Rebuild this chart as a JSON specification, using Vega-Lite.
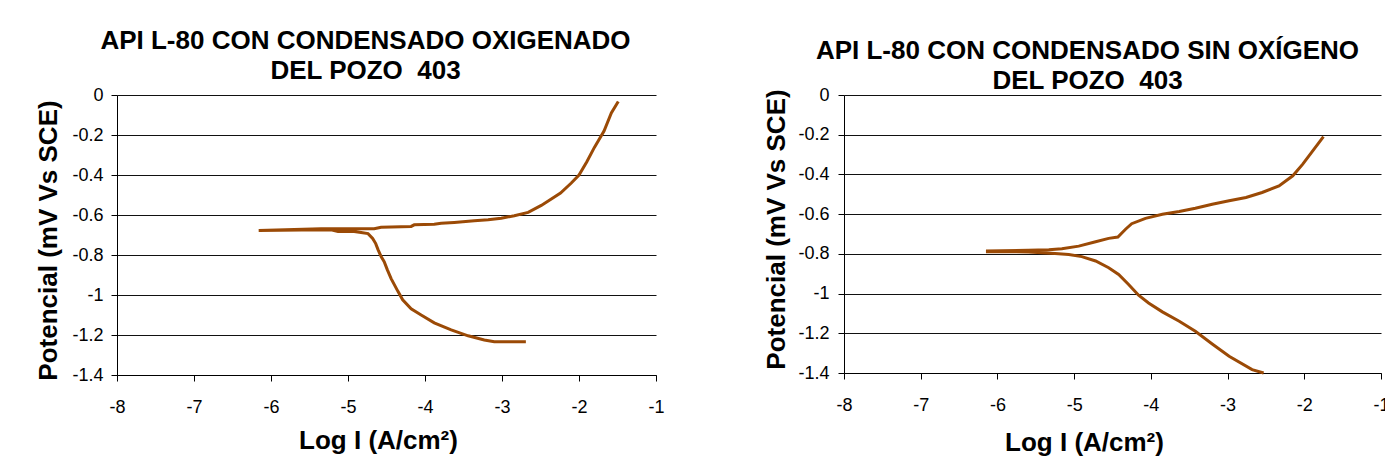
{
  "$schema": "https://vega.github.io/schema/vega-lite/v6.json",
  "background": "white",
  "padding": {"left": 34, "top": 28, "right": 5, "bottom": 5},
  "bounds": "flush",
  "spacing": 188,
  "datasets": {
    "oxig": [
      {"i": 1, "logI": -2.69, "E": -1.234},
      {"i": 2, "logI": -3.10, "E": -1.234},
      {"i": 3, "logI": -3.23, "E": -1.225},
      {"i": 4, "logI": -3.44, "E": -1.204},
      {"i": 5, "logI": -3.66, "E": -1.174},
      {"i": 6, "logI": -3.88, "E": -1.139},
      {"i": 7, "logI": -4.05, "E": -1.100},
      {"i": 8, "logI": -4.18, "E": -1.069},
      {"i": 9, "logI": -4.29, "E": -1.024},
      {"i": 10, "logI": -4.35, "E": -0.983},
      {"i": 11, "logI": -4.44, "E": -0.918},
      {"i": 12, "logI": -4.49, "E": -0.873},
      {"i": 13, "logI": -4.53, "E": -0.833},
      {"i": 14, "logI": -4.57, "E": -0.808},
      {"i": 15, "logI": -4.61, "E": -0.773},
      {"i": 16, "logI": -4.64, "E": -0.743},
      {"i": 17, "logI": -4.68, "E": -0.717},
      {"i": 18, "logI": -4.74, "E": -0.693},
      {"i": 19, "logI": -4.83, "E": -0.687},
      {"i": 20, "logI": -4.92, "E": -0.682},
      {"i": 21, "logI": -5.13, "E": -0.682},
      {"i": 22, "logI": -5.22, "E": -0.674},
      {"i": 23, "logI": -5.60, "E": -0.675},
      {"i": 24, "logI": -6.16, "E": -0.677},
      {"i": 25, "logI": -5.35, "E": -0.669},
      {"i": 26, "logI": -4.66, "E": -0.669},
      {"i": 27, "logI": -4.57, "E": -0.661},
      {"i": 28, "logI": -4.18, "E": -0.657},
      {"i": 29, "logI": -4.14, "E": -0.649},
      {"i": 30, "logI": -3.88, "E": -0.646},
      {"i": 31, "logI": -3.79, "E": -0.641},
      {"i": 32, "logI": -3.62, "E": -0.637},
      {"i": 33, "logI": -3.36, "E": -0.629},
      {"i": 34, "logI": -3.18, "E": -0.624},
      {"i": 35, "logI": -3.01, "E": -0.616},
      {"i": 36, "logI": -2.84, "E": -0.604},
      {"i": 37, "logI": -2.66, "E": -0.587},
      {"i": 38, "logI": -2.49, "E": -0.552},
      {"i": 39, "logI": -2.24, "E": -0.490},
      {"i": 40, "logI": -2.10, "E": -0.440},
      {"i": 41, "logI": -2.00, "E": -0.400},
      {"i": 42, "logI": -1.90, "E": -0.335},
      {"i": 43, "logI": -1.80, "E": -0.262},
      {"i": 44, "logI": -1.675, "E": -0.180},
      {"i": 45, "logI": -1.58, "E": -0.090},
      {"i": 46, "logI": -1.49, "E": -0.032}
    ],
    "sinox": [
      {"i": 1, "logI": -2.53, "E": -1.400},
      {"i": 2, "logI": -2.68, "E": -1.383},
      {"i": 3, "logI": -2.98, "E": -1.316},
      {"i": 4, "logI": -3.20, "E": -1.254},
      {"i": 5, "logI": -3.42, "E": -1.190},
      {"i": 6, "logI": -3.63, "E": -1.139},
      {"i": 7, "logI": -3.85, "E": -1.092},
      {"i": 8, "logI": -4.03, "E": -1.047},
      {"i": 9, "logI": -4.16, "E": -1.008},
      {"i": 10, "logI": -4.29, "E": -0.954},
      {"i": 11, "logI": -4.42, "E": -0.904},
      {"i": 12, "logI": -4.55, "E": -0.870},
      {"i": 13, "logI": -4.72, "E": -0.836},
      {"i": 14, "logI": -4.90, "E": -0.814},
      {"i": 15, "logI": -5.07, "E": -0.803},
      {"i": 16, "logI": -5.25, "E": -0.798},
      {"i": 17, "logI": -5.42, "E": -0.794},
      {"i": 18, "logI": -5.60, "E": -0.791},
      {"i": 19, "logI": -5.86, "E": -0.789},
      {"i": 20, "logI": -6.13, "E": -0.789},
      {"i": 21, "logI": -6.13, "E": -0.786},
      {"i": 22, "logI": -5.60, "E": -0.782},
      {"i": 23, "logI": -5.33, "E": -0.779},
      {"i": 24, "logI": -5.16, "E": -0.774},
      {"i": 25, "logI": -4.94, "E": -0.761},
      {"i": 26, "logI": -4.72, "E": -0.739},
      {"i": 27, "logI": -4.55, "E": -0.722},
      {"i": 28, "logI": -4.43, "E": -0.715},
      {"i": 29, "logI": -4.33, "E": -0.676},
      {"i": 30, "logI": -4.25, "E": -0.648},
      {"i": 31, "logI": -4.07, "E": -0.621},
      {"i": 32, "logI": -3.85, "E": -0.601},
      {"i": 33, "logI": -3.63, "E": -0.587},
      {"i": 34, "logI": -3.42, "E": -0.570},
      {"i": 35, "logI": -3.20, "E": -0.550},
      {"i": 36, "logI": -2.98, "E": -0.533},
      {"i": 37, "logI": -2.76, "E": -0.516},
      {"i": 38, "logI": -2.55, "E": -0.491},
      {"i": 39, "logI": -2.33, "E": -0.458},
      {"i": 40, "logI": -2.15, "E": -0.407},
      {"i": 41, "logI": -2.02, "E": -0.348},
      {"i": 42, "logI": -1.89, "E": -0.281},
      {"i": 43, "logI": -1.75, "E": -0.210}
    ]
  },
  "hconcat": [
    {
      "width": 539,
      "height": 280,
      "title": {"text": ["API L-80 CON CONDENSADO OXIGENADO", "DEL POZO \u00a0403"], "dx": -21, "offset": 2},
      "data": {"name": "oxig"},
      "mark": {"type": "line", "color": "#9B4A06", "strokeWidth": 3},
      "encoding": {
        "x": {"field": "logI", "type": "quantitative", "scale": {"domain": [-8, -1], "nice": false, "zero": false},
          "axis": {"title": "Log I (A/cm²)", "values": [-8, -7, -6, -5, -4, -3, -2, -1], "grid": false, "format": "~g", "labelPadding": 17,
            "titleX": 261, "titleY": 73, "titleAlign": "center", "titleBaseline": "alphabetic"}},
        "y": {"field": "E", "type": "quantitative", "scale": {"domain": [-1.4, 0], "nice": false, "zero": false},
          "axis": {"title": "Potencial (mV Vs SCE)", "values": [0, -0.2, -0.4, -0.6, -0.8, -1, -1.2, -1.4], "grid": true, "format": "~g", "labelPadding": 8,
            "titleX": -61, "titleY": 145, "titleAngle": -90, "titleAlign": "center", "titleBaseline": "alphabetic"}},
        "order": {"field": "i", "type": "quantitative"}
      }
    },
    {
      "width": 537,
      "height": 278,
      "title": {"text": ["API L-80 CON CONDENSADO SIN OXÍGENO", "DEL POZO \u00a0403"], "dx": -25, "offset": -8},
      "data": {"name": "sinox"},
      "mark": {"type": "line", "color": "#9B4A06", "strokeWidth": 3},
      "encoding": {
        "x": {"field": "logI", "type": "quantitative", "scale": {"domain": [-8, -1], "nice": false, "zero": false},
          "axis": {"title": "Log I (A/cm²)", "values": [-8, -7, -6, -5, -4, -3, -2, -1], "grid": false, "format": "~g", "labelPadding": 17,
            "titleX": 240, "titleY": 77, "titleAlign": "center", "titleBaseline": "alphabetic"}},
        "y": {"field": "E", "type": "quantitative", "scale": {"domain": [-1.4, 0], "nice": false, "zero": false},
          "axis": {"title": "Potencial (mV Vs SCE)", "values": [0, -0.2, -0.4, -0.6, -0.8, -1, -1.2, -1.4], "grid": true, "format": "~g", "labelPadding": 9,
            "titleX": -60, "titleY": 134, "titleAngle": -90, "titleAlign": "center", "titleBaseline": "alphabetic"}},
        "order": {"field": "i", "type": "quantitative"}
      }
    }
  ],
  "config": {
    "view": {"stroke": null},
    "locale": {"number": {"decimal": ".", "thousands": ",", "grouping": [3], "currency": ["$", ""], "minus": "-"}},
    "axis": {
      "labelFont": "Liberation Sans", "labelFontSize": 18, "labelColor": "#000", "labelFlush": false, "labelOverlap": false, "labelBound": false,
      "titleFont": "Liberation Sans", "titleFontSize": 26, "titleFontWeight": "bold", "titleColor": "#000",
      "domainColor": "#000", "domainWidth": 1, "tickColor": "#000", "tickSize": 6, "tickWidth": 1,
      "gridColor": "#111", "gridOpacity": 1, "gridWidth": 1
    },
    "title": {"font": "Liberation Sans", "fontSize": 26, "fontWeight": "bold", "color": "#000", "lineHeight": 30, "anchor": "middle", "frame": "group", "baseline": "bottom"}
  }
}
